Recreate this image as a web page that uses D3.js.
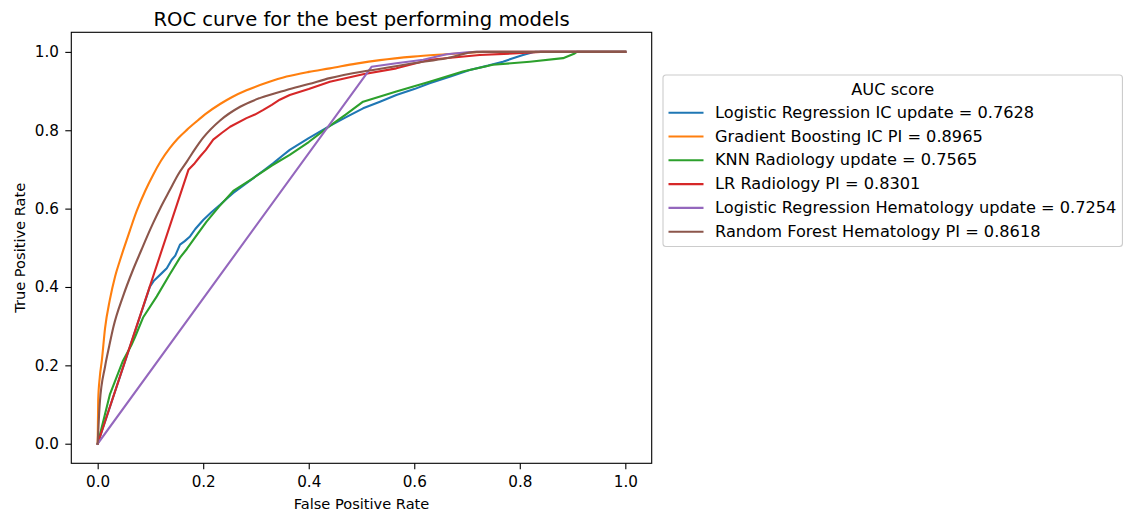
<!DOCTYPE html>
<html>
<head>
<meta charset="utf-8">
<script src="https://cdn.jsdelivr.net/npm/d3@7"></script>
<style>
  body { margin: 0; background: #fff; }
  text { font-family: "DejaVu Sans", sans-serif; fill: #000; }
</style>
</head>
<body>
<div id="chart"></div>
<script>
// ROC curve points, [fpr, tpr]
var lrIcUpdate = [[0,0],[0.099,0.401],[0.106,0.415],[0.112,0.423],[0.122,0.436],[0.131,0.448],[0.140,0.469],[0.147,0.48],[0.156,0.508],[0.165,0.517],[0.175,0.529],[0.185,0.548],[0.2,0.571],[0.215,0.59],[0.232,0.61],[0.245,0.626],[0.257,0.64],[0.275,0.658],[0.295,0.678],[0.315,0.698],[0.333,0.716],[0.35,0.735],[0.364,0.75],[0.40,0.78],[0.44,0.811],[0.47,0.833],[0.503,0.856],[0.535,0.873],[0.566,0.89],[0.6,0.905],[0.629,0.920],[0.67,0.938],[0.705,0.954],[0.74,0.965],[0.768,0.975],[0.79,0.985],[0.806,0.992],[0.825,0.999],[0.83,1],[1,1]];
var gbIcPi = [[0,0],[0.001,0.112],[0.004,0.17],[0.008,0.214],[0.014,0.295],[0.023,0.367],[0.033,0.427],[0.042,0.467],[0.048,0.492],[0.061,0.544],[0.074,0.594],[0.09,0.645],[0.105,0.686],[0.12,0.722],[0.137,0.755],[0.152,0.779],[0.169,0.801],[0.187,0.822],[0.206,0.843],[0.232,0.867],[0.255,0.885],[0.282,0.902],[0.32,0.921],[0.358,0.937],[0.40,0.949],[0.44,0.958],[0.49,0.97],[0.535,0.979],[0.598,0.988],[0.661,0.994],[0.718,0.999],[0.73,1],[1,1]];
var knnRadUpdate = [[0,0],[0.023,0.125],[0.048,0.212],[0.064,0.252],[0.071,0.273],[0.086,0.322],[0.112,0.376],[0.137,0.433],[0.156,0.475],[0.169,0.497],[0.185,0.527],[0.206,0.566],[0.23,0.605],[0.257,0.645],[0.295,0.678],[0.33,0.71],[0.364,0.737],[0.40,0.77],[0.44,0.811],[0.47,0.84],[0.503,0.873],[0.566,0.899],[0.629,0.924],[0.692,0.950],[0.749,0.967],[0.819,0.975],[0.882,0.984],[0.904,0.996],[0.908,1],[1,1]];
var lrRadPi = [[0,0],[0.172,0.699],[0.184,0.716],[0.194,0.733],[0.205,0.75],[0.219,0.776],[0.235,0.793],[0.251,0.809],[0.282,0.831],[0.298,0.84],[0.314,0.852],[0.33,0.865],[0.345,0.878],[0.364,0.89],[0.40,0.905],[0.44,0.924],[0.503,0.943],[0.566,0.958],[0.629,0.980],[0.724,0.992],[0.787,0.996],[0.831,0.999],[0.84,1],[1,1]];
var lrHemUpdate = [[0,0],[0.519,0.962],[0.566,0.971],[0.617,0.98],[0.661,0.994],[0.70,0.999],[0.72,1],[1,1]];
var rfHemPi = [[0,0],[0.004,0.104],[0.014,0.197],[0.022,0.25],[0.030,0.299],[0.048,0.376],[0.067,0.444],[0.083,0.495],[0.094,0.53],[0.105,0.563],[0.12,0.605],[0.137,0.648],[0.152,0.686],[0.169,0.72],[0.185,0.753],[0.2,0.781],[0.232,0.825],[0.27,0.86],[0.307,0.882],[0.358,0.903],[0.40,0.918],[0.44,0.933],[0.503,0.95],[0.55,0.96],[0.598,0.971],[0.661,0.984],[0.718,1.0],[1,1]];

var labels = ["Logistic Regression IC update = 0.7628", "Gradient Boosting IC PI = 0.8965", "KNN Radiology update = 0.7565",
  "LR Radiology PI = 0.8301", "Logistic Regression Hematology update = 0.7254", "Random Forest Hematology PI = 0.8618"];
var curves = [lrIcUpdate, gbIcPi, knnRadUpdate, lrRadPi, lrHemUpdate, rfHemPi];
var colors = ["#1f77b4", "#ff7f0e", "#2ca02c", "#d62728", "#9467bd", "#8c564b"];
var smooth = [false, true, false, false, false, true];
var ticks = [0, 0.2, 0.4, 0.6, 0.8, 1.0];

var W = 1124, H = 515;
var margin = {top: 32.3, right: W - 651.7, bottom: H - 463.3, left: 71.3},
    width = W - margin.left - margin.right,
    height = H - margin.top - margin.bottom;

var svg = d3.select("#chart").append("svg")
  .attr("width", W).attr("height", H);
var g = svg.append("g")
  .attr("transform", "translate(" + margin.left + "," + margin.top + ")");

var x = d3.scaleLinear().domain([-0.05, 1.05]).range([0, width]);
var y = d3.scaleLinear().domain([-0.05, 1.05]).range([height, 0]);

// axes
var xAxis = g.append("g")
  .attr("transform", "translate(0," + height + ")")
  .call(d3.axisBottom(x).tickValues(ticks).tickFormat(d3.format(".1f")).tickSize(6).tickPadding(7));
var yAxis = g.append("g")
  .call(d3.axisLeft(y).tickValues(ticks).tickFormat(d3.format(".1f")).tickSize(6).tickPadding(6.4));
[xAxis, yAxis].forEach(function(a) {
  a.select(".domain").remove();
  a.selectAll("line").attr("stroke", "#000").attr("stroke-width", 1.1);
  a.selectAll("text").style("font-size", "15.2px").style("font-family", "DejaVu Sans");
});

// lines
var lineSmooth = d3.line().curve(d3.curveMonotoneX)
  .x(function(d) { return x(d[0]); }).y(function(d) { return y(d[1]); });
var lineStraight = d3.line()
  .x(function(d) { return x(d[0]); }).y(function(d) { return y(d[1]); });
g.selectAll(".roc")
  .data(curves)
  .enter().append("path")
  .attr("class", "roc")
  .attr("d", function(d, i) { return smooth[i] ? lineSmooth(d) : lineStraight(d); })
  .attr("fill", "none")
  .attr("stroke", function(d, i) { return colors[i]; })
  .attr("stroke-width", 2.1)
  .attr("stroke-linejoin", "round")
  .attr("stroke-linecap", "square");

// frame
g.append("rect").attr("width", width).attr("height", height)
  .attr("fill", "none").attr("stroke", "#000").attr("stroke-width", 1.1);

// titles
svg.append("text").attr("x", margin.left + width / 2).attr("y", 25.5)
  .attr("text-anchor", "middle").style("font-size", "19.6px")
  .text("ROC curve for the best performing models");
svg.append("text").attr("x", margin.left + width / 2).attr("y", 508.5)
  .attr("text-anchor", "middle").style("font-size", "14.6px")
  .text("False Positive Rate");
svg.append("text")
  .attr("transform", "translate(24.5," + (margin.top + height / 2) + ") rotate(-90)")
  .attr("text-anchor", "middle").style("font-size", "14.6px")
  .text("True Positive Rate");

// legend
var lg = svg.append("g").attr("transform", "translate(663,75)");
var box = lg.append("rect").attr("x", 0).attr("y", 0).attr("rx", 3)
  .attr("height", 171.5).attr("fill", "#fff").attr("fill-opacity", 0.8)
  .attr("stroke", "#cccccc").attr("stroke-width", 1.1);
var titleT = lg.append("text").attr("y", 20).attr("text-anchor", "middle")
  .style("font-size", "16.2px").text("AUC score");
var maxW = 0;
labels.forEach(function(lab, i) {
  var yy = 37.7 + i * 23.8;
  lg.append("line").attr("x1", 5.5).attr("x2", 40.5).attr("y1", yy).attr("y2", yy)
    .attr("stroke", colors[i]).attr("stroke-width", 2.1);
  var t = lg.append("text").attr("x", 52).attr("y", yy + 5)
    .style("font-size", "16.2px").text(lab);
  maxW = Math.max(maxW, t.node().getComputedTextLength());
});
var boxW = Math.min(52 + maxW + 6, 1123.5 - 663);
box.attr("width", boxW);
titleT.attr("x", boxW / 2);
</script>
</body>
</html>
